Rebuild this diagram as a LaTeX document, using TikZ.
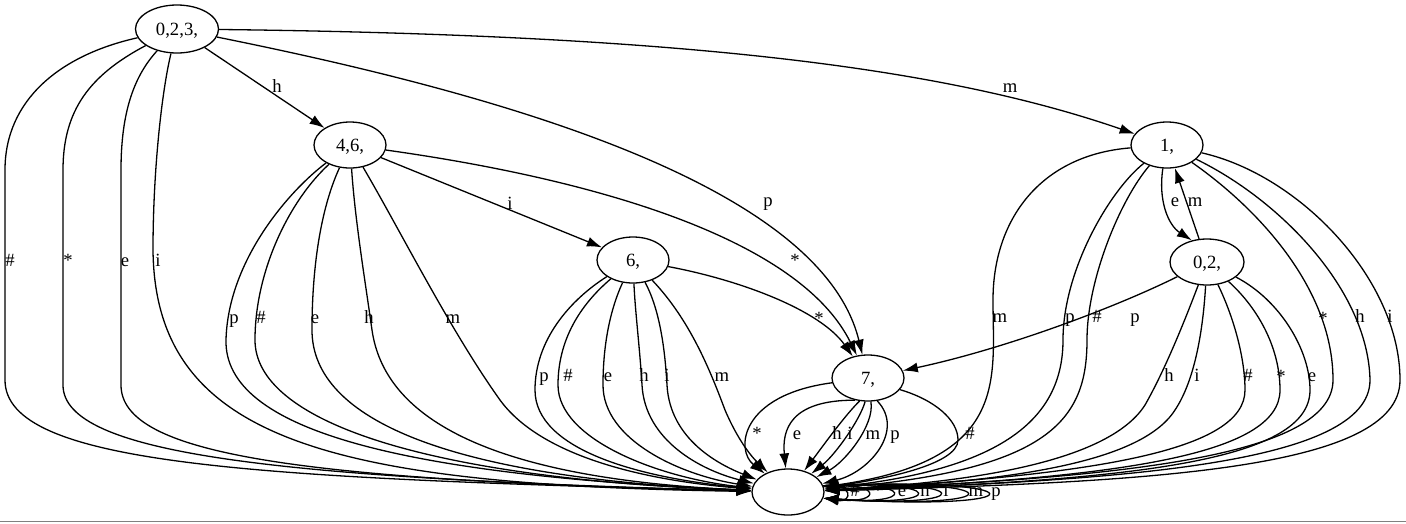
\documentclass[tikz,border=0pt]{standalone}
\usepackage{fontspec}
\setmainfont{Liberation Serif}
\usetikzlibrary{arrows.meta,shapes.geometric}

\begin{document}
\begin{tikzpicture}[x=1pt, y=-1pt, font=\fontsize{18.67}{22}\selectfont,
    state/.style={draw, ellipse, line width=1.3pt, minimum width=72pt, minimum height=46pt,
                  inner sep=0pt, text height=12pt, text depth=0pt},
    edge/.style={line width=1.3pt, -{Latex[length=15pt,width=10pt]}},
    lbl/.style={inner sep=0pt, text height=12pt, text depth=4pt}]
                % 画布大小（像素坐标，y 向下）
                \useasboundingbox (0,0) rectangle (1406,523);

                % 状态节点
                \node[state, minimum width=83pt, minimum height=48pt] (s023) at (177,29) {0,2,3,};
                \node[state] (s46) at (350,145) {4,6,};
                \node[state] (s6) at (633,260) {6,};
                \node[state] (s7) at (868,378) {7,};
                \node[state] (s1) at (1167,145) {1,};
                \node[state, minimum width=74pt] (s02) at (1207,262) {0,2,};
                \node[state] (sE) at (788,492) {};

                % 0,2,3, 的出边
                \draw[edge] (s023) -- (s46);
                \draw[edge] (s023) .. controls (700,35) and (950,70) .. (s1);
                \draw[edge] (s023) .. controls (480,90) and (820,180) .. (s7);
                \draw[edge] (s023) .. controls (60,55) and (5,100) .. (5,170) -- (5,380) .. controls (5,465) and (250,478) .. (sE);
                \draw[edge] (s023) .. controls (90,75) and (63,110) .. (63,170) -- (63,385) .. controls (63,455) and (280,478) .. (sE);
                \draw[edge] (s023) .. controls (135,75) and (121,110) .. (121,170) -- (121,385) .. controls (121,455) and (300,480) .. (sE);
                \draw[edge] (s023) .. controls (162,90) and (153,170) .. (153,250) .. controls (155,440) and (330,485) .. (sE);

                % 4,6, 的出边
                \draw[edge] (s46) -- (s6);
                \draw[edge] (s46) .. controls (600,180) and (800,240) .. (s7);
                \draw[edge] (s46) .. controls (290,190) and (228,260) .. (226,340) .. controls (224,430) and (400,475) .. (sE);
                \draw[edge] (s46) .. controls (290,200) and (255,270) .. (255,340) .. controls (255,420) and (420,478) .. (sE);
                \draw[edge] (s46) .. controls (320,210) and (312,270) .. (312,330) .. controls (312,420) and (450,478) .. (sE);
                \draw[edge] (s46) .. controls (355,220) and (365,280) .. (372,330) .. controls (384,414) and (480,478) .. (sE);
                \draw[edge] (s46) .. controls (400,230) and (450,330) .. (500,400) .. controls (540,455) and (640,480) .. (sE);

                % 6, 的出边
                \draw[edge] (s6) .. controls (740,280) and (820,310) .. (s7);
                \draw[edge] (s6) .. controls (570,300) and (535,340) .. (535,390) .. controls (535,450) and (640,478) .. (sE);
                \draw[edge] (s6) .. controls (580,305) and (558,340) .. (558,385) .. controls (558,440) and (660,478) .. (sE);
                \draw[edge] (s6) .. controls (610,310) and (603,345) .. (603,385) .. controls (603,440) and (680,475) .. (sE);
                \draw[edge] (s6) .. controls (635,310) and (640,350) .. (642,385) .. controls (645,440) and (700,470) .. (sE);
                \draw[edge] (s6) .. controls (660,310) and (665,350) .. (667,385) .. controls (670,440) and (720,465) .. (sE);
                \draw[edge] (s6) .. controls (690,320) and (710,370) .. (725,410) .. controls (740,445) and (755,460) .. (sE);

                % 7, 的出边
                \draw[edge] (s7) .. controls (740,395) and (735,450) .. (sE);
                \draw[edge] (s7.240) .. controls (790,400) and (782,430) .. (sE);
                \draw[edge] (s7.250) .. controls (845,415) and (820,450) .. (sE);
                \draw[edge] (s7.263) .. controls (860,420) and (835,455) .. (sE);
                \draw[edge] (s7.277) .. controls (875,425) and (845,462) .. (sE);
                \draw[edge] (s7.292) .. controls (905,430) and (870,472) .. (sE);
                \draw[edge] (s7.340) .. controls (935,400) and (958,420) .. (958,440) .. controls (958,465) and (880,480) .. (sE);

                % 1, 的出边
                \draw[edge] (s1.260) .. controls (1158,200) and (1168,225) .. (s02.125);
                \draw[edge] (s1) .. controls (1040,155) and (993,220) .. (993,300) .. controls (993,380) and (1010,460) .. (sE);
                \draw[edge] (s1) .. controls (1110,190) and (1063,270) .. (1063,340) .. controls (1063,420) and (1000,470) .. (sE);
                \draw[edge] (s1) .. controls (1120,200) and (1087,280) .. (1087,340) .. controls (1087,420) and (1050,470) .. (sE);
                \draw[edge] (s1) .. controls (1260,210) and (1333,290) .. (1333,380) .. controls (1333,460) and (1100,478) .. (sE);
                \draw[edge] (s1) .. controls (1280,200) and (1368,290) .. (1370,380) .. controls (1370,465) and (1120,480) .. (sE);
                \draw[edge] (s1) .. controls (1300,175) and (1400,280) .. (1400,380) .. controls (1400,470) and (1150,482) .. (sE);

                % 0,2, 的出边
                \draw[edge] (s02) -- (s1);
                \draw[edge] (s02) .. controls (1110,310) and (1000,350) .. (s7);
                \draw[edge] (s02) .. controls (1185,320) and (1165,370) .. (1145,405) .. controls (1110,460) and (980,482) .. (sE);
                \draw[edge] (s02) .. controls (1203,330) and (1195,380) .. (1175,410) .. controls (1140,465) and (1000,482) .. (sE);
                \draw[edge] (s02) .. controls (1235,320) and (1245,360) .. (1245,390) .. controls (1245,450) and (1100,475) .. (sE);
                \draw[edge] (s02) .. controls (1260,310) and (1280,350) .. (1280,390) .. controls (1280,455) and (1120,478) .. (sE);
                \draw[edge] (s02) .. controls (1280,300) and (1310,350) .. (1310,390) .. controls (1310,460) and (1140,480) .. (sE);

                % 终态的自环
                \foreach \tip [count=\k from 0] in {846,868,893,917,940,967,988}
                    \draw[edge] (sE.10) .. controls ({(4*\tip-824)/3},{482-\k}) and ({(4*\tip-824)/3},{503+1.5*\k}) .. (sE.-10);

                % 边上的字母
                \foreach \lab/\x/\y [count=\n] in {h/277/88, m/1010/88, p/768/202, \#/10/262, */68/262, e/125/262, i/158/262,
                        i/510/205, */795/262, p/234/319, \#/261/319, e/315/319, h/369/319, m/453/319,
                        */819/320, p/544/377, \#/568/377, e/608/377, h/644/377, i/667/377, m/722/377,
                        */757/435, e/797/435, h/837/435, i/850/435, m/873/435, p/895/435, \#/970/435,
                        e/1175/202, m/1000/318, p/1070/318, \#/1097/318, */1323/320, h/1360/318, i/1390/318,
                        m/1195/202, p/1135/318, h/1169/377, i/1197/377, \#/1248/377, */1281/378, e/1312/377,
                        \#/855/492, */878/492, e/902/492, h/925/492, i/946/492, m/976/492, p/996/492}
                    \node[lbl] (lab\n) at (\x,\y) {\lab};

                % 底部灰线
                \draw[line width=1.5pt, gray] (0,521.5) -- (1406,521.5);
            \end{tikzpicture}
\end{document}
